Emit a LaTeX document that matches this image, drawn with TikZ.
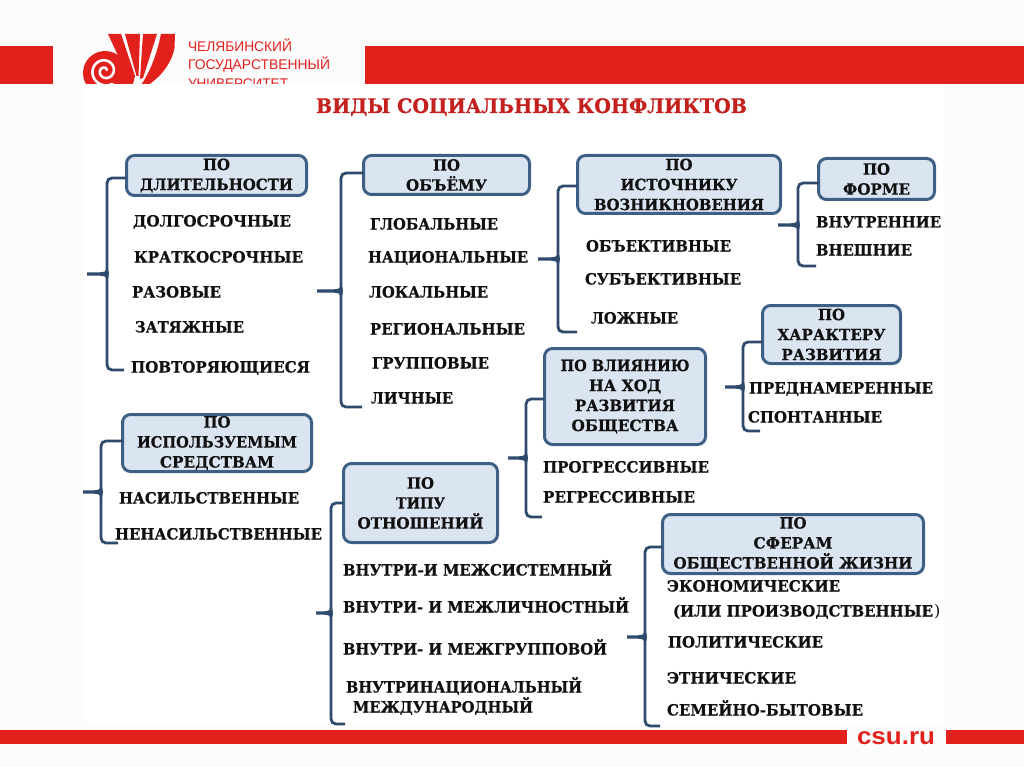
\documentclass[tikz,border=0pt]{standalone}
\usepackage{graphicx}
\usepackage{fontspec}
\setmainfont[BoldFeatures={FakeBold=0.5}]{DejaVu Serif}
\newfontfamily\logofont{Liberation Sans}
\definecolor{pagebg}{HTML}{FCFCFD}
\definecolor{csured}{HTML}{E3211C}
\definecolor{titlered}{HTML}{C4201E}
\definecolor{boxfill}{HTML}{DBE5F1}
\definecolor{boxline}{HTML}{3F6086}
\definecolor{brkline}{HTML}{2E4A6C}
\definecolor{inktext}{HTML}{111111}
\tikzset{
  boxn/.style={draw=boxline,fill=boxfill,line width=3pt,rounded corners=8pt,inner sep=0pt,outer sep=0pt,align=center,text=inktext,font=\fontsize{15.5}{20}\selectfont\bfseries},
  itemn/.style={inner sep=0pt,outer sep=0pt,anchor=base west,text=inktext,font=\fontsize{15.5}{20}\selectfont\bfseries},
  brk/.style={draw=brkline,line width=2.8pt,rounded corners=5pt},
  tipf/.style={fill=brkline,draw=none},
  logot/.style={inner sep=0pt,outer sep=0pt,anchor=base west,text=csured,font=\fontsize{14}{14}\selectfont\logofont},
  band/.style={fill=csured,draw=none}
}
\newcommand\fitw[2]{\resizebox{#1pt}{\height}{#2}}
\newcommand\bx[6]{%
  \pgfmathsetmacro\bxw{#3-#2-3}\pgfmathsetmacro\bxh{#5-#4-3}%
  \pgfmathsetmacro\bcx{(#2+#3)/2}\pgfmathsetmacro\bcy{(#4+#5)/2}%
  \node[boxn,minimum width=\bxw pt,minimum height=\bxh pt] (#1) at (\bcx,\bcy) {#6};}
\newcommand\brkt[8]{%
  \coordinate (s#1) at (#3,#4);
  \coordinate (e#1) at (#6,#5);
  \coordinate (p#1) at (#7,#8);
  \draw[brk] (#2.west |- s#1) -- (s#1) -- (s#1 |- e#1) -- (e#1);
  \fill[tipf] (#7,#8-1.5) -- (#3-7,#8-1.7) .. controls (#3-3,#8-2) and (#3-1,#8-2.5) .. (#3,#8-5)
     -- (#3+1,#8-5) -- (#3+2,#8) -- (#3+1,#8+5) -- (#3,#8+5)
     .. controls (#3-1,#8+2.5) and (#3-3,#8+2) .. (#3-7,#8+1.7) -- (#7,#8+1.5) -- cycle;}
\begin{document}
\begin{tikzpicture}[x=1pt,y=-1pt]
\useasboundingbox (0,0) rectangle (1024,767);
\fill[pagebg] (0,0) rectangle (1024,767);
% header bands
\fill[band] (0,46) rectangle (53,84);
\fill[band] (365,46) rectangle (1024,84);
% logo
\begin{scope}
\clip (70,28) rectangle (345,84);
\fill[csured] (108,34) -- (121,34) -- (135,76) -- (133,84) -- (120,84) -- (120,60) -- cycle;
\fill[csured] (125,34) -- (140,34) -- (138.5,76) -- (136.5,76) -- cycle;
\fill[csured] (143,34) -- (157,34) -- (143,78) -- (140,79) -- cycle;
\fill[csured] (161,34) -- (175,34) -- (174.5,48) .. controls (172,62) and (162,76) .. (148,85) -- (141,85) .. controls (150,72) and (157,54) .. cycle;
\fill[csured] (105,73) circle[radius=22];
\draw[white,line width=2.6pt,line cap=round] plot[smooth,domain=0:630,samples=60] ({105+(2+\x*0.0206)*cos(690-\x)},{71+(2+\x*0.0206)*sin(690-\x)});
\node[logot] (lg1) at (188,52) {\fitw{104}{ЧЕЛЯБИНСКИЙ}};
\node[logot] (lg2) at (188,70) {\fitw{142}{ГОСУДАРСТВЕННЫЙ}};
\node[logot] (lg3) at (188,88.5) {\fitw{100}{УНИВЕРСИТЕТ}};
\end{scope}
% white panel
\fill[white] (85,84) rectangle (945,722);
% title
\node[inner sep=0pt,outer sep=0pt,anchor=base west,text=titlered,font=\fontsize{20}{22}\selectfont\bfseries] (title) at (316,113) {\fitw{431}{ВИДЫ СОЦИАЛЬНЫХ КОНФЛИКТОВ}};
% boxes
\bx{b1}{125}{308}{154}{197}{\fitw{27}{ПО}\\\fitw{153}{ДЛИТЕЛЬНОСТИ}}
\bx{b2}{362}{531}{154}{196}{\fitw{27}{ПО}\\\fitw{81}{ОБЪЁМУ}}
\bx{b3}{576}{782}{154}{215}{\fitw{27}{ПО}\\\fitw{117}{ИСТОЧНИКУ}\\\fitw{170}{ВОЗНИКНОВЕНИЯ}}
\bx{b4}{817}{936}{157}{201}{\fitw{27}{ПО}\\\fitw{67}{ФОРМЕ}}
\bx{b5}{761}{902}{304}{365}{\fitw{27}{ПО}\\\fitw{108}{ХАРАКТЕРУ}\\\fitw{100}{РАЗВИТИЯ}}
\bx{b6}{543}{707}{347}{446}{\fitw{129}{ПО ВЛИЯНИЮ}\\\fitw{72}{НА ХОД}\\\fitw{100}{РАЗВИТИЯ}\\\fitw{107}{ОБЩЕСТВА}}
\bx{b7}{121}{313}{413}{473}{\fitw{27}{ПО}\\\fitw{160}{ИСПОЛЬЗУЕМЫМ}\\\fitw{114}{СРЕДСТВАМ}}
\bx{b8}{342}{499}{462}{544}{\fitw{27}{ПО}\\\fitw{49}{ТИПУ}\\\fitw{126}{ОТНОШЕНИЙ}}
\bx{b9}{661}{925}{513}{575}{\fitw{27}{ПО}\\\fitw{79}{СФЕРАМ}\\\fitw{239}{ОБЩЕСТВЕННОЙ ЖИЗНИ}}
% brackets
\brkt{1}{b1}{107}{178}{370}{124}{87}{274}
\brkt{2}{b2}{341}{173}{407}{362}{317}{291}
\brkt{3}{b3}{558}{186}{332}{577}{538}{259}
\brkt{4}{b4}{798}{183}{266}{816}{778}{225}
\brkt{5}{b5}{743}{342}{431}{760}{725}{387}
\brkt{6}{b6}{526}{399}{517}{542}{508}{458}
\brkt{7}{b7}{101}{441}{543}{118}{83}{492}
\brkt{8}{b8}{331}{503}{724}{345}{316}{613}
\brkt{9}{b9}{645}{547}{726}{660}{627}{637}
% items
\foreach \xa/\xb/\yc/\tx [count=\i] in {
133/291/221/ДОЛГОСРОЧНЫЕ,
134/303/257/КРАТКОСРОЧНЫЕ,
132/221/292/РАЗОВЫЕ,
135/244/327/ЗАТЯЖНЫЕ,
131/310/367/ПОВТОРЯЮЩИЕСЯ,
119/299/498/НАСИЛЬСТВЕННЫЕ,
115/322/534/НЕНАСИЛЬСТВЕННЫЕ,
370/498/224/ГЛОБАЛЬНЫЕ,
368/528/257/НАЦИОНАЛЬНЫЕ,
369/488/292/ЛОКАЛЬНЫЕ,
370/525/329/РЕГИОНАЛЬНЫЕ,
372/489/363/ГРУППОВЫЕ,
371/453/398/ЛИЧНЫЕ,
586/731/246/ОБЪЕКТИВНЫЕ,
585/741/279/СУБЪЕКТИВНЫЕ,
591/678/318/ЛОЖНЫЕ,
816/941/222/ВНУТРЕННИЕ,
816/912/250/ВНЕШНИЕ,
749/933/388/ПРЕДНАМЕРЕННЫЕ,
748/882/417/СПОНТАННЫЕ,
543/709/467/ПРОГРЕССИВНЫЕ,
543/695/497/РЕГРЕССИВНЫЕ,
343/612/570/ВНУТРИ-И МЕЖСИСТЕМНЫЙ,
343/629/607/ВНУТРИ- И МЕЖЛИЧНОСТНЫЙ,
343/607/649/ВНУТРИ- И МЕЖГРУППОВОЙ,
346/582/687/ВНУТРИНАЦИОНАЛЬНЫЙ,
353/533/707/МЕЖДУНАРОДНЫЙ,
667/840/586/ЭКОНОМИЧЕСКИЕ,
673/933/611/{(ИЛИ ПРОИЗВОДСТВЕННЫЕ},
668/823/642/ПОЛИТИЧЕСКИЕ,
667/796/678/ЭТНИЧЕСКИЕ,
667/863/710/СЕМЕЙНО-БЫТОВЫЕ}
{
  \pgfmathsetmacro\itw{\xb-\xa}
  \pgfmathsetmacro\yb{\yc+5.5}
  \node[itemn] (it\i) at (\xa,\yb) {\fitw{\itw}{\tx}};
}
\node[inner sep=0pt,outer sep=0pt,anchor=base west,text=inktext,font=\fontsize{16}{20}\selectfont\mdseries] (paren) at (934,616.5) {)};
% bottom band
\fill[band] (0,730) rectangle (847,744);
\fill[band] (946,730) rectangle (1024,744);
\node[inner sep=0pt,outer sep=0pt,anchor=base west,text=csured,font=\fontsize{24}{26}\selectfont\logofont\bfseries] (csu) at (857,744) {\fitw{78}{csu.ru}};
\end{tikzpicture}
\end{document}
